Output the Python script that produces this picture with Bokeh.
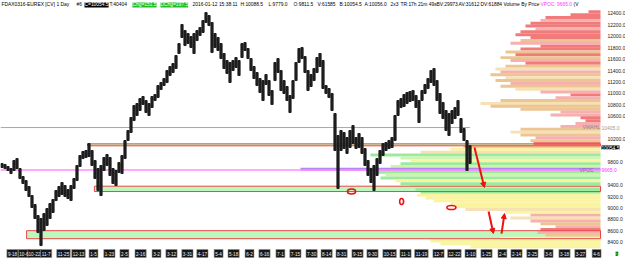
from bokeh.plotting import figure
from bokeh.models import (Range1d, FixedTicker, PrintfTickFormatter, Label, Arrow,
                          NormalHead)
from bokeh.core.properties import value
from bokeh.embed import file_html
from bokeh.resources import INLINE

# ---------------- data ----------------
bar_high = [9777, 9760, 9725, 9690, 9830, 9864, 9690, 9550, 9480, 9376,
            9218, 9061, 8869, 8817, 8904, 8991, 9079, 9149, 9306, 9376,
            9445, 9393, 9323, 9393, 9515, 9742, 9917, 9987, 10004, 10126,
            10004, 9830, 9690, 9742, 9882, 9934, 9882, 9690, 9655, 9795,
            9917, 10179, 10353, 10580, 10789, 10824, 10911, 10946, 10876, 10824,
            10946, 10981, 11138, 11191, 11260, 11400, 11470, 11522, 11662, 11871,
            12203, 12098, 12046, 11993, 12046, 12098, 12150, 12273, 12412, 12360,
            12238, 12046, 11976, 11871, 11697, 11575, 11540, 11575, 11627, 11575,
            11871, 11888, 11784, 11609, 11470, 11365, 11260, 11225, 11330, 11225,
            11051, 11540, 11609, 11400, 11225, 11121, 10964, 11225, 11540, 11784,
            11801, 11644, 11400, 11330, 11435, 11627, 11697, 11575, 11138, 11086,
            10999, 10650, 10266, 10353, 10318, 10231, 10353, 10440, 10231, 10301,
            10231, 10039, 9830, 9690, 9742, 9864, 10004, 10126, 10144, 10179,
            10231, 10615, 10876, 10911, 10981, 11016, 11034, 11051, 10964, 10876,
            11051, 11156, 11260, 11400, 11435, 11225, 10999, 10842, 10702, 10650,
            10702, 10754, 10876, 10562, 10388, 10179, 10088.5]
bar_low = [9707, 9690, 9655, 9602, 9655, 9690, 9515, 9428, 9306, 9201,
           9009, 8817, 8572, 8345, 8607, 8695, 8817, 8922, 9131, 9201,
           9236, 9201, 9166, 9131, 9341, 9480, 9725, 9864, 9882, 9899,
           9742, 9515, 9306, 9218, 9655, 9742, 9568, 9428, 9393, 9620,
           9602, 9864, 10179, 10318, 10527, 10615, 10702, 10807, 10667, 10615,
           10754, 10876, 10929, 11068, 11138, 11191, 11313, 11365, 11435, 11697,
           11976, 11836, 11871, 11801, 11697, 11923, 12011, 12063, 12238, 12185,
           11714, 11801, 11749, 11609, 11435, 11348, 11191, 11400, 11452, 11313,
           11627, 11749, 11609, 11400, 11260, 11138, 11016, 10876, 11156, 10964,
           10807, 11225, 11365, 11051, 10999, 10876, 10667, 10911, 11225, 11540,
           11609, 11365, 11051, 11121, 11225, 11365, 11470, 11086, 10999, 10929,
           10702, 10004, 9341, 10004, 10039, 9952, 10056, 10126, 10039, 10056,
           9952, 9742, 9568, 9445, 9306, 9568, 9777, 9917, 10004, 10039,
           10056, 10179, 10615, 10754, 10772, 10824, 10859, 10876, 10754, 10493,
           10876, 10999, 11086, 11191, 11138, 10876, 10650, 10562, 10353, 10266,
           10475, 10562, 10615, 10318, 10179, 9655, 9779.0]
bar_idx = list(range(len(bar_high)))

vbp_price = [12425, 12375, 12325, 12275, 12225, 12175, 12125, 12075, 12025, 11975,
             11925, 11875, 11825, 11775, 11725, 11675, 11625, 11575, 11525, 11475,
             11425, 11375, 11325, 11275, 11225, 11175, 11125, 11075, 11025, 10975,
             10925, 10875, 10825, 10775, 10725, 10675, 10625, 10575, 10525, 10475,
             10425, 10375, 10325, 10275, 10225, 10175, 10125, 10075, 10025, 9975,
             9925, 9875, 9825, 9775, 9725, 9675, 9625, 9575, 9525, 9475,
             9425, 9375, 9325, 9275, 9225, 9175, 9125, 9075, 9025, 8975,
             8925, 8875, 8825, 8775, 8725, 8675, 8625, 8575, 8525, 8475,
             8425, 8375, 8325]
vbp_volume = [12, 30, 55, 60, 70, 75, 65, 80, 85, 70,
              80, 90, 60, 80, 95, 85, 100, 90, 75, 95,
              105, 100, 110, 95, 105, 90, 100, 85, 60, 30,
              45, 100, 120, 110, 80, 40, 50, 20, 15, 25,
              40, 80, 90, 80, 65, 70, 67, 137, 150, 180,
              230, 200, 190, 200, 210, 300, 225, 215, 220, 205,
              200, 190, 185, 180, 183, 175, 167, 150, 145, 135,
              95, 70, 90, 70, 60, 45, 60, 63, 55, 100,
              170, 160, 130]
vbp_class = ["r", "r", "r", "p", "r", "r", "p", "r", "r", "r",
             "t", "p", "r", "r", "t", "r", "t", "p", "r", "t",
             "l", "p", "t", "l", "t", "p", "t", "l", "p", "r",
             "p", "t", "l", "t", "t", "p", "p", "r", "r", "p",
             "p", "t", "l", "t", "p", "t", "r", "t", "y", "l",
             "g", "lg", "y", "g", "lg", "v", "g", "lg", "g", "y",
             "g", "lg", "g", "g", "y", "y", "y", "y", "y", "l",
             "y", "p", "l", "p", "t", "p", "r", "p", "t", "y",
             "y", "y", "y"]

zone_start = [28.5, 30.8, 8.2]
zone_low = [10086, 9288, 8465]
zone_high = [10120, 9381, 8605]

vwahl_level = 10405.0
vpoc_level = 9665.0
last_close = 10054.5

arrow_x0 = [157.5, 162.2, 166.5]
arrow_y0 = [10056, 8939, 8555]
arrow_x1 = [160.8, 163.8, 167.5]
arrow_y1 = [9358, 8555, 8904]
mark_x = [116.5, 133.2, 149.8]
mark_y = [9289, 9114, 9009]
mark_w = [2.7, 1.3, 3.0]
mark_h = [87, 105, 70]

y_ticks = [8400, 8600, 8800, 9000, 9200, 9400, 9800, 10200,
           10600, 10800, 11000, 11200, 11400, 11600, 11800, 12000, 12200, 12400]
date_labels = ["9-18", "10-6", "10-22", "11-7", "11-25", "12-13", "1-5", "1-23",
               "2-5", "2-16", "3-2", "3-12", "3-31", "4-17", "5-4", "5-18", "6-2",
               "6-16", "7-1", "7-15", "7-30", "8-14", "8-31", "9-15", "9-30",
               "10-15", "11-1", "11-19", "12-7", "12-22", "1-10", "1-25", "2-4",
               "2-14", "2-25", "3-6", "3-18", "3-27", "4-6"]
date_pos = [3.5, 7.3, 10.8, 14.7, 20.5, 25.5, 30.5, 35.8, 40.8, 46.2, 51.5, 56.5,
            61.8, 66.8, 72.2, 77.2, 82.5, 87.5, 92.8, 97.8, 103.2, 108.2, 113.2,
            118.5, 123.5, 129.2, 134.5, 139.8, 145.5, 150.8, 156.2, 161.5, 166.8,
            171.5, 176.8, 182.2, 187.5, 192.8, 198.2]

# ---------------- layout / styling ----------------
FONT = "Liberation Sans"
FS = "5px"
palette = {"r": "#f17a7a", "p": "#f6b0b0", "t": "#ecc592", "l": "#f6e0b4",
           "y": "#faf4a0", "g": "#9ceb9c", "lg": "#cdf5b0", "v": "#b784f5"}

PX = 3.0                    # pixels per bar slot
PPP = 17.452                # price points per pixel
X0, X1 = -0.5, 207.83       # whole canvas width
Y_TOP, Y_BOT = 12622, 8067  # whole canvas height
PROF_R = 199.5              # right edge of the profile area (slot units)
AXIS_X = 199.5              # price axis position
AXIS_Y = 8311               # date axis position
DATE_Y = AXIS_Y - 6.0 * PPP # centre of the date boxes

p = figure(width=625, height=261, x_range=Range1d(X0, X1),
           y_range=Range1d(Y_BOT, Y_TOP), y_axis_location="right",
           output_backend="svg", toolbar_location=None,
           min_border_left=0, min_border_top=0, min_border_right=0,
           min_border_bottom=0)
p.xgrid.visible = False
p.ygrid.visible = False
p.outline_line_color = None
p.background_fill_color = "white"
p.border_fill_color = "white"

ya = p.yaxis[0]
ya.fixed_location = AXIS_X
ya.ticker = FixedTicker(ticks=y_ticks)
ya.formatter = PrintfTickFormatter(format="%.1f")
ya.axis_line_color = None
ya.major_tick_line_color = None
ya.minor_tick_line_color = None
ya.major_label_standoff = 1
ya.major_label_text_font = FONT
ya.major_label_text_font_size = FS
ya.major_label_text_color = "#222222"

xa = p.xaxis[0]
xa.fixed_location = AXIS_Y
xa.ticker = FixedTicker(ticks=date_pos)
xa.visible = False

# date labels: black boxes with light text
box_w = [(2.3 * len(s) + 2.0) / PX for s in date_labels]
p.rect(x=date_pos, y=[DATE_Y] * len(date_pos), width=box_w,
       height=[8.0 * PPP] * len(date_pos), fill_color="#161616",
       line_color="#8a8a8a", line_width=0.6)
p.text(x=date_pos, y=[DATE_Y] * len(date_pos), text=date_labels,
       text_font=value(FONT), text_font_size=value("4.6px"), text_color="#f2f2f2",
       text_align="center", text_baseline="middle")

# zone fills
p.quad(left=zone_start, right=[PROF_R] * 3, bottom=zone_low, top=zone_high,
       fill_color="#bdf7bd", line_color=None)

# volume profile, drawn leftwards from the right edge
p.extra_x_ranges = {"vbp": Range1d(start=600, end=-25)}
p.hbar(y=vbp_price, left=0, right=vbp_volume, height=52,
       fill_color=[palette[c] for c in vbp_class], line_color=None,
       x_range_name="vbp")

# level lines
p.segment(x0=[X0], x1=[bar_idx[-1]], y0=[vwahl_level], y1=[vwahl_level],
          line_color="#a8a8a8", line_width=1)
p.segment(x0=[X0], x1=[PROF_R], y0=[vpoc_level], y1=[vpoc_level],
          line_color="#ff8cff", line_width=1.5)

# zone outlines
p.quad(left=zone_start, right=[PROF_R] * 3, bottom=zone_low, top=zone_high,
       fill_color=None, line_color="#e84848", line_width=1)

# price bars
p.vbar(x=bar_idx, top=bar_high, bottom=bar_low, width=0.72, color="#1e1e1e")

# annotations
for xs, ys, xe, ye in zip(arrow_x0, arrow_y0, arrow_x1, arrow_y1):
    p.add_layout(Arrow(end=NormalHead(size=5, fill_color="#ee1111", line_color="#ee1111"),
                       x_start=xs, y_start=ys, x_end=xe, y_end=ye,
                       line_color="#ee1111", line_width=2))
p.ellipse(x=mark_x, y=mark_y, width=mark_w, height=mark_h, fill_color=None,
          line_color="#ee1111", line_width=1.6)

# header line
hdr = [("FDAX0316-EUREX [CV]", 1, None, "black"), ("1 Day", 56, None, "black"),
       ("#6", 76, None, "black"), ("C=10054.5", 84, "black", "white"),
       ("T:40404", 109, None, "black"), ("Chg=151.5", 132, "#1fbf1f", "white"),
       ("DChg=197.5", 160, "#1fbf1f", "white"), ("2016-01-12 15:38:11", 192, None, "black"),
       ("H:10088.5", 240, None, "black"), ("L:9779.0", 268, None, "black"),
       ("O:9811.5", 293, None, "black"), ("V:61585", 317, None, "black"),
       ("B:10054.5", 339, None, "black"), ("A:10056.0", 364, None, "black"),
       ("2x3", 390, None, "black"), ("TR:17h 21m 49s", 400, None, "black"),
       ("BV:29973", 436, None, "black"), ("AV:31612", 458, None, "black"),
       ("DV:61884", 480, None, "black"), ("Volume By Price", 503, None, "black"),
       ("VPOC: 9665.0", 540, None, "#ff33ff"), ("(V", 573, None, "black")]
for txt, xp, bg, fg in hdr:
    p.add_layout(Label(x=xp, y=Y_TOP - 4.5 * PPP, x_units="screen", y_units="data",
                       text=txt, text_font=FONT, text_font_size="4.9px", text_color=fg,
                       text_baseline="middle", background_fill_color=bg))

# right-side price labels
side = [("10054.5", 601, last_close, "black", "white"),
        ("10405.0", 601, vwahl_level, None, "#9a9a9a"),
        ("9665.0", 601, vpoc_level, None, "#ff33ff"),
        ("VWAHL", 582, vwahl_level + 15, None, "#8a8a8a"),
        ("VPOC", 579, vpoc_level, None, "#8a6aa0")]
for txt, xp, yv, bg, fg in side:
    p.add_layout(Label(x=xp, y=yv, x_units="screen", y_units="data", text=txt,
                       text_font=FONT, text_font_size=FS, text_color=fg,
                       text_baseline="middle", background_fill_color=bg))

# green status box, bottom right
p.add_layout(Label(x=615, y=DATE_Y, x_units="screen", y_units="data",
                   text="2", text_font=FONT, text_font_size=FS, text_color="#004400",
                   text_baseline="middle", background_fill_color="#22cc22"))

open("out.html", "w").write(file_html(p, INLINE))
